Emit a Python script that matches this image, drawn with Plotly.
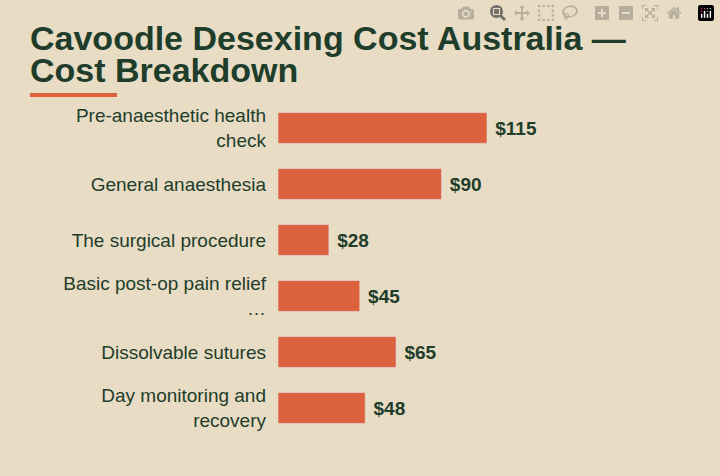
import plotly.graph_objects as go

categories = ["Pre-anaesthetic health<br>check", "General anaesthesia", "The surgical procedure",
              "Basic post-op pain relief<br>…", "Dissolvable sutures", "Day monitoring and<br>recovery"]
values = [115, 90, 28, 45, 65, 48]
labels = ["$115", "$90", "$28", "$45", "$65", "$48"]
title_lines = ["Cavoodle Desexing Cost Australia —", "Cost Breakdown"]

green = "#1e3d2a"
orange = "#dc623e"
bg = "#e8dcc5"

fig = go.Figure(go.Bar(
    x=values, y=categories, orientation="h", width=0.55,
    marker_color=orange, text=[" " + s for s in labels], textposition="outside",
    textfont=dict(family="Liberation Sans, Arial", size=19, color=green, weight="bold"),
    cliponaxis=False,
))
L, R, T, B = 278, 20, 100, 40
pw, ph = 720 - L - R, 476 - T - B
fy = lambda py: (476 - B - py) / ph
fx = lambda px: (px - L) / pw
fig.update_layout(
    width=720, height=476, margin=dict(l=L, r=R, t=T, b=B),
    paper_bgcolor=bg, plot_bgcolor=bg, showlegend=False,
    font=dict(family="Liberation Sans, Arial", color=green),
    xaxis=dict(range=[0, pw / (209 / 115)], visible=False),
    yaxis=dict(autorange="reversed", tickfont=dict(size=19, color=green),
               ticks="", showgrid=False, ticklabelstandoff=11, ticklen=0),
    annotations=[dict(text="<b>%s</b>" % t, xref="paper", yref="paper",
                      x=fx(28), y=fy(38 + 32 * i), xanchor="left", yanchor="middle",
                      showarrow=False, font=dict(size=34, color=green, family="Liberation Sans, Arial"))
                 for i, t in enumerate(title_lines)],
    shapes=[dict(type="rect", xref="paper", yref="paper",
                 x0=fx(30), x1=fx(117), y0=fy(97), y1=fy(93),
                 fillcolor=orange, line_width=0)],
)
fig.write_html("out.html", post_script="document.body.style.margin='0';document.body.style.background='%s';" % bg)
